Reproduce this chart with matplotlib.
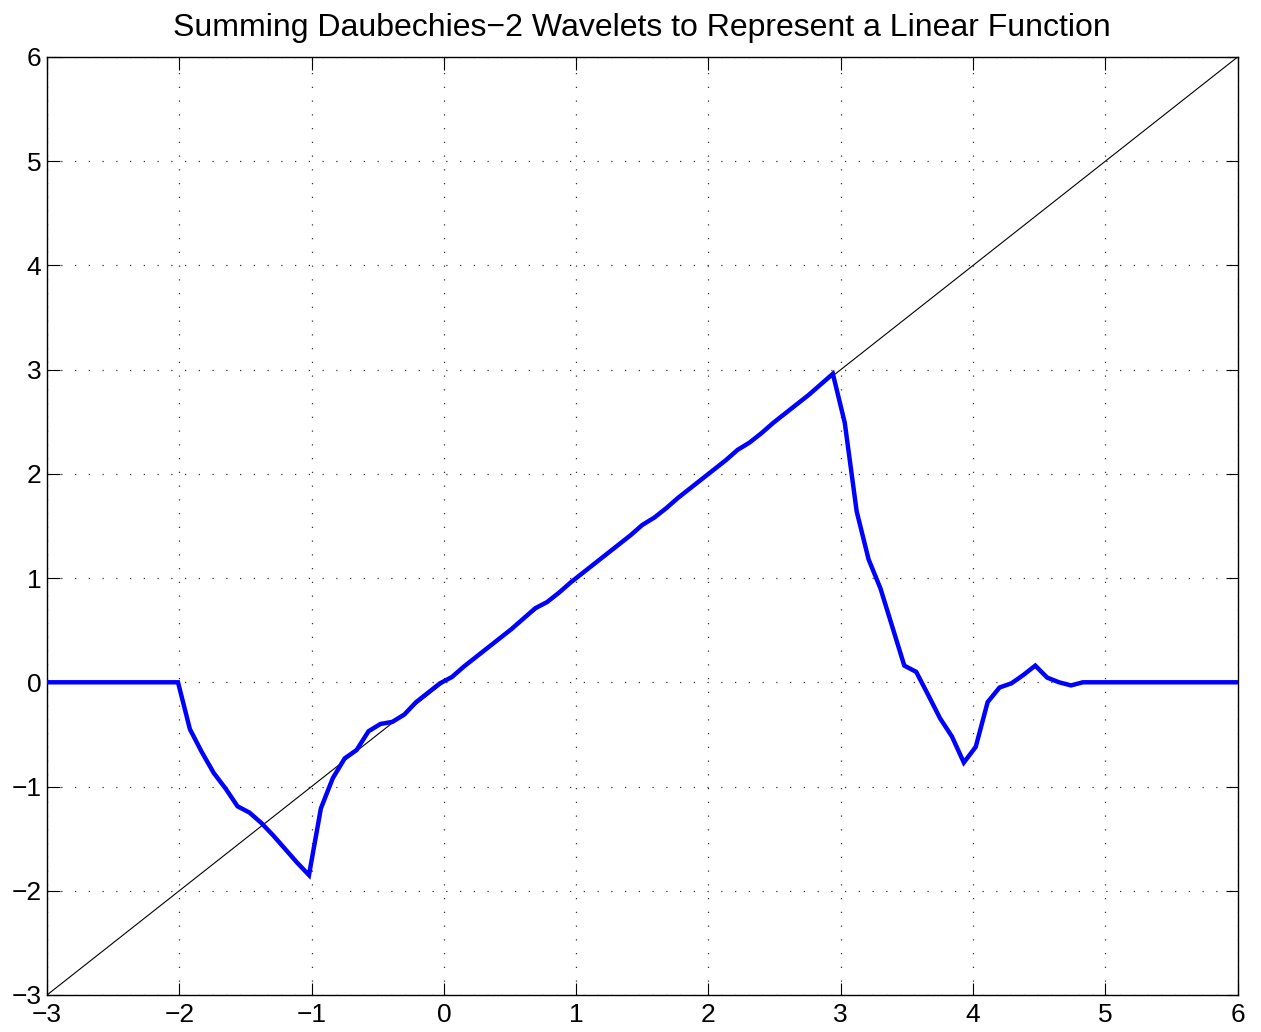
import numpy as np
import matplotlib
matplotlib.use("Agg")
import matplotlib.pyplot as plt

plt.rcParams['font.family'] = ['Liberation Sans', 'DejaVu Sans']

# sample grid (x = -3:0.09:6)
x_start, x_stop, n_pts = -3.0, 6.0, 101
x = np.linspace(x_start, x_stop, n_pts)

# reconstruction values
y_sum = [
    0, 0, 0, 0, 0, 0, 0, 0, 0, 0, 0, 0,
    -0.45, -0.67, -0.87, -1.02, -1.19, -1.25, -1.35, -1.47, -1.60, -1.73,
    -1.85, -1.21, -0.92, -0.73, -0.65, -0.47, -0.40, -0.38, -0.31, -0.19,
    -0.10, -0.01, 0.05, 0.15, 0.24, 0.33, 0.42, 0.51, 0.61, 0.71,
    0.77, 0.86, 0.96, 1.05, 1.14, 1.23, 1.32, 1.41, 1.51, 1.58,
    1.67, 1.77, 1.86, 1.95, 2.04, 2.13, 2.23, 2.30, 2.39, 2.49,
    2.58, 2.67, 2.76, 2.86, 2.96, 2.49, 1.64, 1.18, 0.90, 0.53,
    0.16, 0.10, -0.12, -0.345, -0.52, -0.77, -0.62, -0.19, -0.05, -0.01,
    0.07, 0.16, 0.045, 0.0, -0.03, 0.0,
    0, 0, 0, 0, 0, 0, 0, 0, 0, 0, 0, 0, 0,
]

line_x = [-3, 6]
line_y = [-3, 6]

x_ticks = [-3, -2, -1, 0, 1, 2, 3, 4, 5, 6]
y_ticks = [-3, -2, -1, 0, 1, 2, 3, 4, 5, 6]
title = "Summing Daubechies\u22122 Wavelets to Represent a Linear Function"

fig = plt.figure(figsize=(12.61, 10.32), dpi=100)
ax = fig.add_axes([0.0373, 0.0359, 0.9442, 0.9089])

ax.plot(line_x, line_y, color='black', lw=0.8, zorder=3)
ax.plot(x, y_sum, color='#0000ff', lw=3.2, zorder=4, solid_joinstyle='miter')

ax.set_xlim(-3, 6)
ax.set_ylim(-3, 6)
ax.set_xticks(x_ticks)
ax.set_yticks(y_ticks)
ax.tick_params(direction='in', length=9, width=0.8, top=True, right=True,
               labelsize=19, colors='black')
ax.tick_params(axis='x', pad=6)
ax.tick_params(axis='y', pad=4)
ax.grid(True, color='#333333', linestyle=(0, (1, 10)), linewidth=0.9)
for s in ax.spines.values():
    s.set_linewidth(1.0)
    s.set_color('black')
ax.set_title(title, fontsize=23, pad=15)

fig.savefig("out.png", dpi=100)
